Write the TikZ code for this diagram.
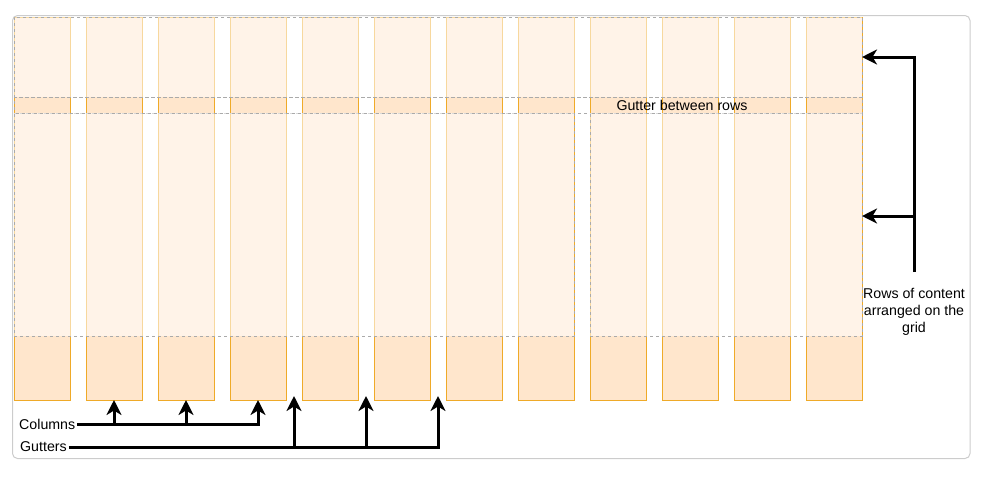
\documentclass[tikz,border=0pt]{standalone}
\usepackage{fontspec}
\setmainfont{Liberation Sans}
\usetikzlibrary{arrows.meta,calc}
\definecolor{colfill}{HTML}{FFE6CC}
\definecolor{colline}{HTML}{EFAA28}
\definecolor{rowline}{HTML}{AAAAAA}
\definecolor{frameline}{HTML}{CCCCCC}
\tikzset{
  colbox/.style={draw=colline, fill=colfill, line width=1pt, minimum width=56pt, minimum height=383pt, inner sep=0pt, outer sep=0pt},
  rowbox/.style={draw=rowline, dash pattern=on 3pt off 3pt, line width=0.9pt, fill=white, fill opacity=0.55, draw opacity=1, inner sep=0pt, outer sep=0pt},
  gutterbox/.style={draw=rowline, dash pattern=on 3pt off 3pt, line width=0.9pt, inner sep=0pt, outer sep=0pt},
  lbl/.style={font=\fontsize{14.2}{17}\selectfont, text=black, inner sep=2pt},
  conn/.style={draw=black, line width=3pt, -{Stealth[length=15pt,width=15pt,inset=4.5pt]}}
}
\begin{document}
\begin{tikzpicture}[x=1pt,y=-1pt]
\useasboundingbox (0,0) rectangle (982,477);
% outer frame
\draw[frameline, line width=1pt, rounded corners=5pt] (12.5,15.5) rectangle (970,458.5);
% columns
\foreach \i in {1,...,12}{
  \node[colbox] (c\i) at ({42+72*(\i-1)}, 208.5) {};
}
% rows
\node[rowbox, minimum width=848pt, minimum height=80pt] (row1) at (438,57) {};
\node[gutterbox, minimum width=848pt, minimum height=16pt] (grow) at (438,105) {};
\node[rowbox, minimum width=560pt, minimum height=223pt] (row2a) at (294,224.5) {};
\node[rowbox, minimum width=272pt, minimum height=223pt] (row2b) at (726,224.5) {};
\node[lbl] (gtext) at (682,105) {Gutter between rows};
% right annotation
\node[lbl, align=center] (rowstext) at (914,312) {Rows of content\\arranged on the\\grid};
\coordinate (rtop) at (914,272);
\coordinate (r2) at (862,216);
\draw[conn] (rtop) |- (row1.east);
\draw[conn] (rtop |- r2) -- (r2);
% columns annotation
\node[lbl, anchor=west] (colslbl) at (17,424) {Columns};
\draw[conn] (colslbl.east) -| (c4.south);
\draw[conn] (colslbl.east -| c2.south) -- (c2.south);
\draw[conn] (colslbl.east -| c3.south) -- (c3.south);
% gutters annotation
\node[lbl, anchor=west] (gutlbl) at (18,447) {Gutters};
\coordinate (g4) at ($(c4.south east)!0.5!(c5.south west)+(0,-4)$);
\coordinate (g5) at ($(c5.south east)!0.5!(c6.south west)+(0,-4)$);
\coordinate (g6) at ($(c6.south east)!0.5!(c7.south west)+(0,-4)$);
\draw[conn] (gutlbl.east) -| (g6);
\draw[conn] (gutlbl.east -| g4) -- (g4);
\draw[conn] (gutlbl.east -| g5) -- (g5);
\end{tikzpicture}
\end{document}
